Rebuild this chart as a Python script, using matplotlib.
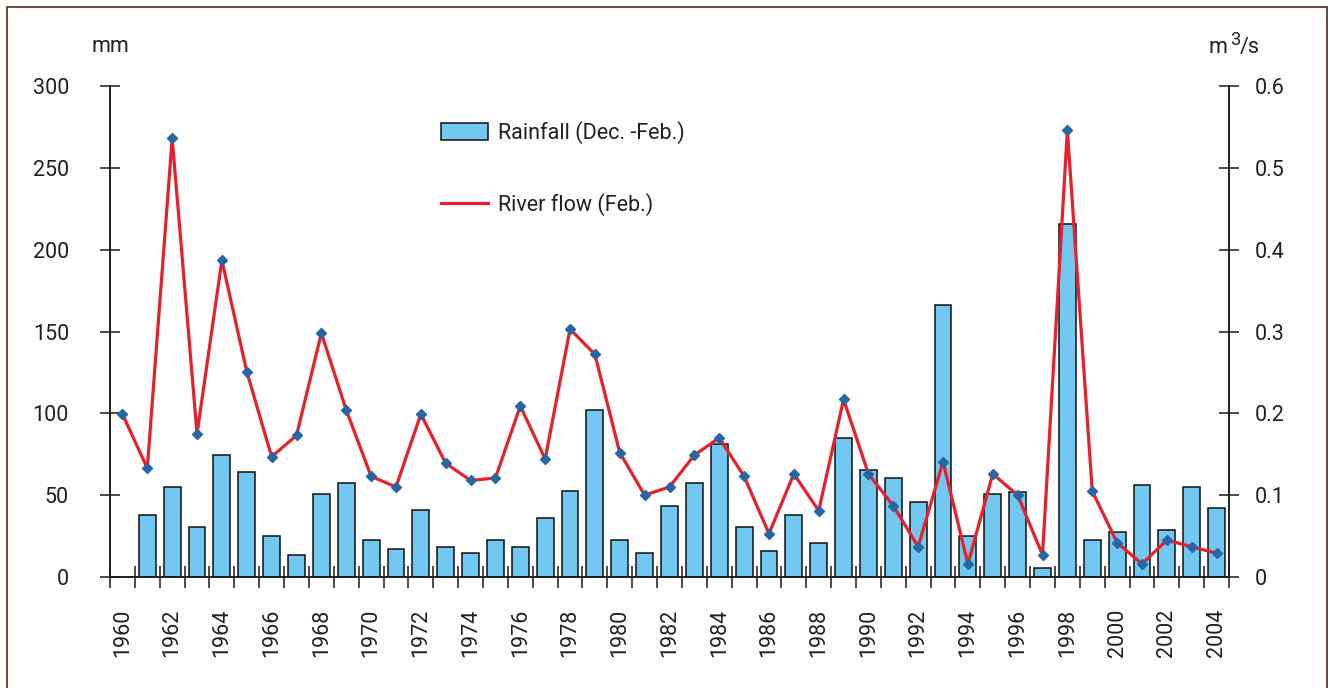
import matplotlib
matplotlib.use('Agg')
import matplotlib.pyplot as plt
from matplotlib import font_manager
from matplotlib.patches import Patch, Rectangle
from matplotlib.lines import Line2D
from matplotlib.ticker import FixedLocator, FuncFormatter

# ---------------- data ----------------
years = list(range(1960, 2005))
rain_years = list(range(1961, 2005))
rainfall_mm = [38.0, 54.9, 30.3, 74.6, 64.2, 25.2, 13.4, 51.0, 57.5, 22.4,
               17.1, 40.7, 18.5, 14.6, 22.4, 18.5, 35.8, 52.4, 102.0, 22.4,
               14.6, 43.3, 57.5, 81.1, 30.3, 15.9, 38.0, 20.9, 85.0, 65.4,
               60.2, 45.7, 166.1, 25.2, 51.0, 52.2, 5.3, 215.4, 22.4, 27.6,
               56.3, 28.9, 54.9, 42.1]
flow_m3s = [0.199, 0.133, 0.536, 0.175, 0.387, 0.251, 0.147, 0.173, 0.298, 0.204,
            0.123, 0.110, 0.199, 0.139, 0.118, 0.121, 0.209, 0.144, 0.303, 0.272,
            0.152, 0.100, 0.110, 0.149, 0.170, 0.123, 0.053, 0.126, 0.081, 0.217,
            0.126, 0.087, 0.037, 0.141, 0.016, 0.126, 0.100, 0.027, 0.546, 0.105,
            0.042, 0.016, 0.045, 0.037, 0.029]
left_ticks = [0, 50, 100, 150, 200, 250, 300]
right_ticks = [0, 0.1, 0.2, 0.3, 0.4, 0.5, 0.6]
year_labels = list(range(1960, 2005, 2))
legend_labels = ['Rainfall (Dec. -Feb.)', 'River flow (Feb.)']

# ---------------- style ----------------
try:
    font_manager.findfont(font_manager.FontProperties(family='Liberation Sans Narrow'),
                          fallback_to_default=False)
    FAMILY = 'Liberation Sans Narrow'
    FS = 17
except Exception:
    FAMILY = 'Roboto'
    FS = 15.5
plt.rcParams['font.family'] = [FAMILY, 'DejaVu Sans']
TXT = '#231f20'
AX = '#1a1a1a'
BAR = '#72c8f0'
RED = '#e8202a'
MARK = '#2766a3'

W, H = 1330, 688
fig = plt.figure(figsize=(W/100, H/100), dpi=100)
ax = fig.add_axes([110/W, 1-577/H, (1229-110)/W, (577-86)/H])
ax2 = ax.twinx()

ax.bar(rain_years, rainfall_mm, width=0.68, color=BAR, edgecolor='#111111',
       linewidth=1.1, zorder=2)
ax2.plot(years, flow_m3s, color=RED, lw=2.3, zorder=3)
ax2.plot(years, flow_m3s, ls='none', marker='D', ms=5.3, color=MARK, zorder=4)

ax.set_xlim(1959.5, 2004.5)
ax.set_ylim(0, 300)
ax2.set_ylim(0, 0.6)

for a in (ax, ax2):
    a.spines['top'].set_visible(False)
    for s in a.spines.values():
        s.set_color(AX)
        s.set_linewidth(1.1)
    a.patch.set_visible(False)

# y axes
ax.yaxis.set_major_locator(FixedLocator(left_ticks))
ax.yaxis.set_major_formatter(FuncFormatter(lambda v, p: f'{int(v)}'))
ax.tick_params(axis='y', direction='inout', length=15, width=1.1, color=AX,
               labelsize=FS, labelcolor=TXT, pad=22)
ax2.yaxis.set_major_locator(FixedLocator(right_ticks))
ax2.yaxis.set_major_formatter(FuncFormatter(lambda v, p: '0' if v == 0 else f'{v:.1f}'))
ax2.tick_params(axis='y', direction='inout', length=15, width=1.1, color=AX,
                labelsize=FS, labelcolor=TXT, pad=11)

# x axis: minor ticks between years, labels on even years
ax.xaxis.set_major_locator(FixedLocator(year_labels))
ax.xaxis.set_major_formatter(FuncFormatter(lambda v, p: f'{int(round(v))}'))
ax.xaxis.set_minor_locator(FixedLocator([y - 0.5 for y in years] + [2004.5]))
ax.tick_params(axis='x', which='major', length=0, labelsize=FS, labelcolor=TXT,
               labelrotation=90, pad=23)
ax.tick_params(axis='x', which='minor', direction='inout', length=16, width=1.1,
               color=AX)

# unit labels
fig.text(110/W, 1-47/H, 'mm', ha='center', va='center', fontsize=FS, color=TXT)
fig.text(1208/W, 1-53/H, 'm', ha='left', va='baseline', fontsize=FS, color=TXT)
fig.text(1230/W, 1-45/H, '3', ha='left', va='baseline', fontsize=FS*0.85, color=TXT)
fig.text(1240/W, 1-53/H, '/s', ha='left', va='baseline', fontsize=FS, color=TXT)

# legend
handles = [Patch(facecolor=BAR, edgecolor='#111111', linewidth=1.1),
           Line2D([], [], color=RED, lw=2.3)]
fig.legend(handles, legend_labels, loc='upper left',
           bbox_to_anchor=(441/W, 1-121/H), frameon=False, fontsize=FS,
           labelcolor=TXT, borderpad=0, borderaxespad=0, labelspacing=2.3,
           handlelength=2.2, handleheight=0.9, handletextpad=0.45)

# outer frame
fig.patches.append(Rectangle((7/W, -0.05), (1327-7)/W, 1.05-7/H,
                             transform=fig.transFigure, fill=False,
                             edgecolor='#5b3a2e', linewidth=1.3))

fig.savefig('out.png', dpi=100)
